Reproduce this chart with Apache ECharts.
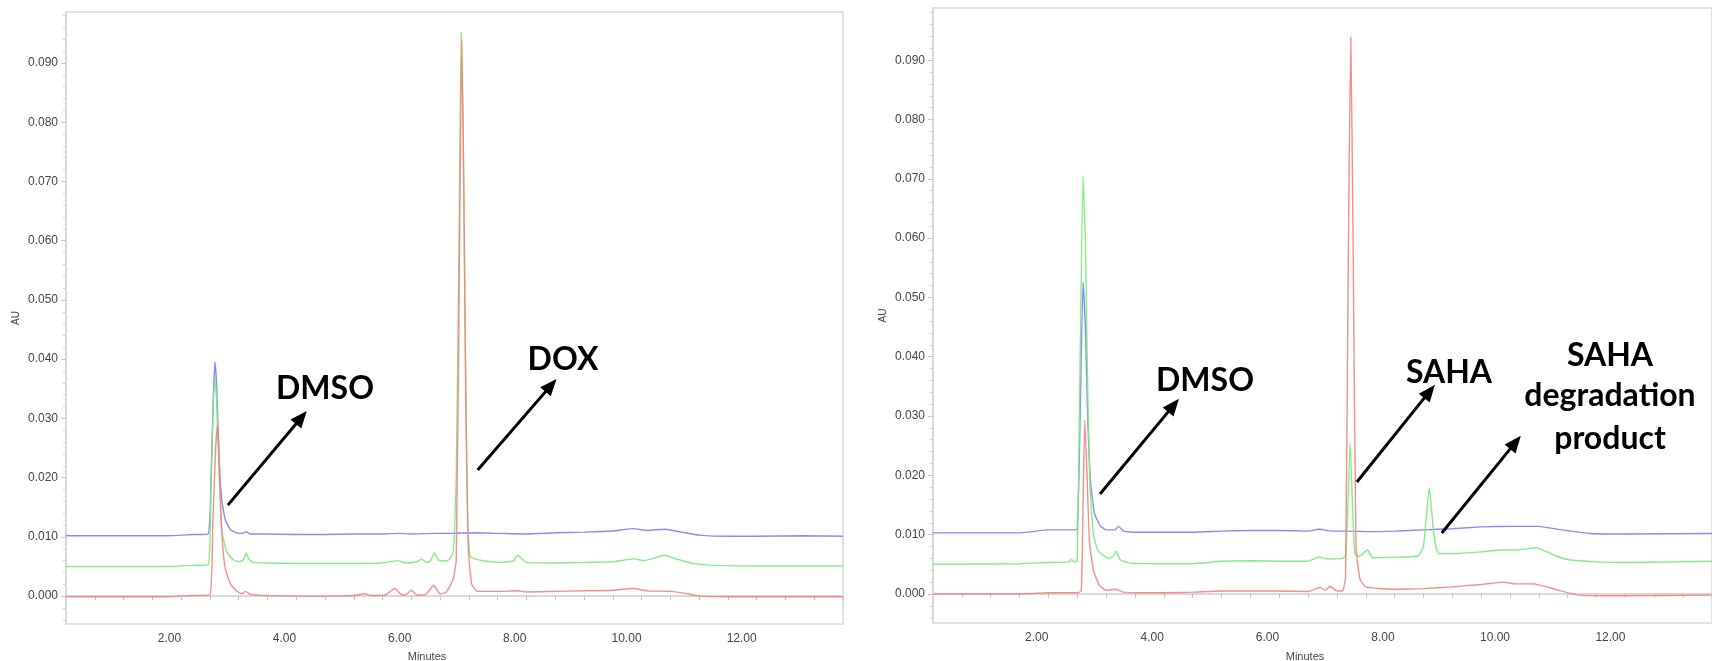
<!DOCTYPE html>
<html>
<head>
<meta charset="utf-8">
<script src="https://cdn.jsdelivr.net/npm/echarts@6/dist/echarts.min.js"></script>
<style>
  html, body { margin: 0; padding: 0; background: #ffffff; }
  #chart { width: 1712px; height: 661px; }
</style>
</head>
<body>
<div id="chart"></div>
<script>
// ---------- DATA (time in minutes, absorbance in AU) ----------
// Left panel: DMSO + DOX
const leftBlue = [[0,0.0102],[1.0,0.0102],[1.75,0.0102],[2.2,0.0104],[2.47,0.0105],[2.52,0.020],[2.56,0.034],[2.59,0.0395],[2.62,0.035],[2.66,0.023],[2.71,0.0160],[2.77,0.0128],[2.86,0.0112],[3.0,0.0106],[3.08,0.0106],[3.13,0.0109],[3.2,0.0105],[3.5,0.0105],[4.0,0.0104],[4.5,0.0104],[5.0,0.0105],[5.5,0.0105],[5.8,0.0106],[6.0,0.0105],[6.4,0.0106],[6.7,0.0106],[7.0,0.0107],[7.5,0.0106],[8.0,0.0105],[8.5,0.0107],[9.0,0.0108],[9.5,0.0110],[9.85,0.0114],[10.1,0.0111],[10.4,0.0113],[10.7,0.0108],[11.0,0.0103],[11.5,0.0101],[12.0,0.0101],[12.8,0.0102],[13.5,0.0101]];
const leftGreen = [[0,0.0050],[1.75,0.0050],[2.2,0.0052],[2.47,0.0053],[2.52,0.018],[2.56,0.033],[2.59,0.0366],[2.62,0.032],[2.66,0.020],[2.71,0.011],[2.79,0.0075],[2.9,0.0062],[3.0,0.0058],[3.08,0.0061],[3.13,0.0073],[3.18,0.0062],[3.25,0.0057],[3.5,0.0056],[4.0,0.0055],[4.5,0.0055],[5.0,0.0055],[5.5,0.0056],[5.77,0.0060],[5.9,0.0056],[6.1,0.0058],[6.18,0.0063],[6.26,0.0057],[6.33,0.0059],[6.4,0.0073],[6.47,0.0061],[6.55,0.0059],[6.65,0.0061],[6.73,0.0075],[6.78,0.020],[6.83,0.062],[6.865,0.0951],[6.9,0.080],[6.94,0.040],[6.98,0.012],[7.02,0.0068],[7.1,0.0063],[7.3,0.0059],[7.6,0.0057],[7.78,0.0060],[7.85,0.0069],[7.93,0.0062],[8.0,0.0057],[8.5,0.0056],[9.0,0.0057],[9.5,0.0058],[9.85,0.0063],[10.05,0.0060],[10.4,0.0069],[10.6,0.0063],[10.9,0.0055],[11.3,0.0052],[12.0,0.0051],[13.5,0.0051]];
const leftRed = [[0,-0.0001],[1.75,-0.0001],[2.2,0.0001],[2.5,0.0002],[2.55,0.012],[2.6,0.025],[2.63,0.0289],[2.66,0.024],[2.7,0.012],[2.76,0.005],[2.85,0.0022],[2.95,0.0010],[3.05,0.0004],[3.12,0.0008],[3.2,0.0003],[3.5,0.0001],[4.0,0.0],[4.5,0.0],[5.0,0.0001],[5.19,0.0004],[5.3,0.0001],[5.55,0.0002],[5.71,0.0013],[5.82,0.0003],[5.9,0.0002],[6.0,0.0010],[6.1,0.0002],[6.25,0.0003],[6.39,0.0018],[6.5,0.0004],[6.6,0.0006],[6.72,0.0027],[6.78,0.006],[6.83,0.050],[6.875,0.0939],[6.91,0.070],[6.95,0.030],[6.99,0.008],[7.05,0.002],[7.15,0.0008],[7.5,0.0008],[7.85,0.0009],[8.0,0.0007],[8.5,0.0008],[9.0,0.0009],[9.5,0.0010],[9.85,0.0013],[10.1,0.0009],[10.5,0.0008],[10.8,0.0004],[11.0,0.0000],[11.5,-0.0001],[12.0,-0.0001],[13.5,-0.0001]];

// Right panel: DMSO + SAHA + SAHA degradation product
const rightBlue = [[0,0.0103],[1.5,0.0103],[2.0,0.0108],[2.4,0.0108],[2.5,0.0110],[2.55,0.030],[2.6,0.0526],[2.64,0.045],[2.68,0.030],[2.73,0.019],[2.8,0.0135],[2.9,0.0115],[3.0,0.0108],[3.15,0.0108],[3.22,0.0114],[3.3,0.0106],[3.6,0.0104],[4.0,0.0104],[4.5,0.0104],[5.0,0.0106],[5.5,0.0107],[6.0,0.0107],[6.5,0.0106],[6.7,0.0109],[6.9,0.0106],[7.2,0.0106],[7.6,0.0105],[8.0,0.0106],[8.5,0.0108],[9.0,0.0110],[9.5,0.0113],[10.0,0.0114],[10.5,0.0114],[10.9,0.0108],[11.4,0.0102],[12.0,0.0101],[13.5,0.0102]];
const rightGreen = [[0,0.0050],[1.5,0.0051],[2.0,0.0053],[2.35,0.0054],[2.4,0.0058],[2.45,0.0054],[2.5,0.0056],[2.55,0.040],[2.6,0.0705],[2.64,0.060],[2.68,0.035],[2.72,0.018],[2.78,0.0100],[2.85,0.0075],[2.95,0.0065],[3.05,0.0060],[3.12,0.0063],[3.18,0.0072],[3.24,0.0058],[3.4,0.0052],[4.0,0.0051],[4.5,0.0051],[5.0,0.0055],[5.5,0.0056],[6.0,0.0055],[6.5,0.0055],[6.68,0.0062],[6.85,0.0059],[7.09,0.0060],[7.15,0.0065],[7.19,0.015],[7.23,0.0254],[7.27,0.015],[7.31,0.0068],[7.38,0.0063],[7.53,0.0074],[7.62,0.0061],[8.0,0.0062],[8.4,0.0064],[8.5,0.0080],[8.6,0.0179],[8.68,0.0100],[8.76,0.0068],[9.0,0.0068],[9.5,0.0071],[9.83,0.0074],[10.1,0.0074],[10.45,0.0078],[10.8,0.0064],[11.0,0.0058],[11.5,0.0054],[12.0,0.0053],[13.5,0.0055]];
const rightRed = [[0,0.0000],[1.5,0.0000],[2.0,0.0002],[2.5,0.0002],[2.57,0.0005],[2.6,0.015],[2.63,0.0293],[2.67,0.020],[2.71,0.009],[2.78,0.004],[2.88,0.0015],[3.0,0.0006],[3.17,0.0008],[3.3,0.0003],[3.6,0.0002],[4.0,0.0002],[4.5,0.0003],[5.0,0.0005],[5.5,0.0005],[6.0,0.0005],[6.5,0.0004],[6.71,0.0011],[6.8,0.0006],[6.88,0.0013],[7.0,0.0005],[7.1,0.0005],[7.15,0.003],[7.2,0.060],[7.24,0.0939],[7.28,0.060],[7.33,0.008],[7.4,0.0025],[7.5,0.0012],[8.0,0.0008],[8.5,0.0009],[9.0,0.0012],[9.5,0.0016],[9.88,0.0020],[10.1,0.0017],[10.4,0.0017],[10.85,0.0006],[11.2,-0.0002],[11.6,-0.0003],[12.0,-0.0003],[13.5,-0.0002]];

// Tick values
const xLabelValues = [2, 4, 6, 8, 10, 12];
const xTickValues = [0.5,1,1.5,2,2.5,3,3.5,4,4.5,5,5.5,6,6.5,7,7.5,8,8.5,9,9.5,10,10.5,11,11.5,12,12.5,13,13.5];
const yLabelValues = [0, 0.01, 0.02, 0.03, 0.04, 0.05, 0.06, 0.07, 0.08, 0.09];
const yMinorValues = [-0.004,-0.002,0.002,0.004,0.006,0.008,0.012,0.014,0.016,0.018,0.022,0.024,0.026,0.028,0.032,0.034,0.036,0.038,0.042,0.044,0.046,0.048,0.052,0.054,0.056,0.058,0.062,0.064,0.066,0.068,0.072,0.074,0.076,0.078,0.082,0.084,0.086,0.088,0.092,0.094,0.096,0.098];

// Annotation arrows (data coordinates: [start, end])
const leftArrows = [[[2.812,0.01537],[4.089,0.03016]], [[7.153,0.02128],[8.427,0.03558]]];
const rightArrows = [[[2.894,0.01685],[4.169,0.03179]], [[7.346,0.01888],[8.606,0.03415]], [[8.818,0.01028],[10.094,0.02555]]];

// ---------- STYLE ----------
const COLORS = { blue: '#8080f4', green: '#7aec7a', red: '#f58282' };
const axisGray = '#d9d9d9';
const labelGray = '#444444';
const labelFont = 'Liberation Sans';

function xAxisFor(grid) {
  return {
    type: 'value', gridIndex: grid, min: 0, max: 13.5,
    axisLine: { show: true, lineStyle: { color: axisGray, width: 2 } },
    axisTick: { show: true, customValues: xTickValues, length: 4, lineStyle: { color: '#c4c4c4' } },
    axisLabel: { customValues: xLabelValues, align: 'right', margin: 9, fontSize: 12,
                 color: labelGray, fontFamily: labelFont, formatter: v => v.toFixed(2) },
    splitLine: { show: false }
  };
}
function yAxesFor(grid, min, max) {
  return [{
    type: 'value', gridIndex: grid, min: min, max: max, position: 'left',
    name: 'AU', nameLocation: 'middle', nameGap: 45, nameRotate: 90,
    nameTextStyle: { fontSize: 10, color: labelGray, fontFamily: labelFont },
    axisLine: { show: true, lineStyle: { color: axisGray, width: 2 } },
    axisTick: { show: true, customValues: yLabelValues, length: 5, lineStyle: { color: '#c4c4c4' } },
    axisLabel: { customValues: yLabelValues, margin: 8, fontSize: 12, color: labelGray,
                 fontFamily: labelFont, formatter: v => v.toFixed(3) },
    splitLine: { show: false }
  }, {
    type: 'value', gridIndex: grid, min: min, max: max, position: 'left',
    axisLine: { show: false },
    axisTick: { show: true, customValues: yMinorValues, length: 3, lineStyle: { color: '#d0d0d0' } },
    axisLabel: { show: false },
    splitLine: { show: false }
  }];
}
function trace(data, color, xi, yi, arrows) {
  const s = {
    type: 'line', data: data, xAxisIndex: xi, yAxisIndex: yi,
    showSymbol: false, symbol: 'none', smooth: 0.15,
    lineStyle: { color: color, width: 1.4, opacity: 0.92 },
    silent: true, animation: false, z: 3
  };
  if (arrows) {
    s.markLine = {
      silent: true, animation: false,
      symbol: ['none', 'triangle'], symbolSize: [14, 17],
      lineStyle: { color: '#000', width: 3, type: 'solid' },
      label: { show: false },
      data: arrows.map(a => [{ coord: a[0] }, { coord: a[1] }])
    };
  }
  return s;
}

const yL = yAxesFor(0, -0.0047, 0.0986);
const yR = yAxesFor(1, -0.0049, 0.0988);

const bold = 'bold 32px Lato';
function lbl(text, x, y) {
  return { type: 'text', x: x, y: y, z: 10, silent: true,
           style: { text: text, font: bold, fill: '#000', align: 'center', verticalAlign: 'middle' } };
}
function axisTitle(text, x, y) {
  return { type: 'text', x: x, y: y, z: 10, silent: true,
           style: { text: text, fontSize: 11, fontFamily: labelFont, fill: labelGray, align: 'center', verticalAlign: 'top' } };
}

const option = {
  backgroundColor: '#ffffff',
  animation: false,
  grid: [
    { left: 66, top: 12, width: 777, height: 612, show: true, borderColor: '#e2e2e2', borderWidth: 2, backgroundColor: 'transparent' },
    { left: 933, top: 8, width: 788, height: 615, show: true, borderColor: '#e2e2e2', borderWidth: 2, backgroundColor: 'transparent' }
  ],
  xAxis: [xAxisFor(0), xAxisFor(1)],
  yAxis: [yL[0], yL[1], yR[0], yR[1]],
  series: [
    trace(leftBlue, COLORS.blue, 0, 0),
    trace(leftGreen, COLORS.green, 0, 0),
    trace(leftRed, COLORS.red, 0, 0, leftArrows),
    trace(rightBlue, COLORS.blue, 1, 2),
    trace(rightGreen, COLORS.green, 1, 2),
    trace(rightRed, COLORS.red, 1, 2, rightArrows)
  ],
  graphic: [
    lbl('DMSO', 325, 389),
    lbl('DOX', 563, 360),
    lbl('DMSO', 1205, 381),
    lbl('SAHA', 1449, 373),
    lbl('SAHA', 1610, 356),
    lbl('degradation', 1610, 396),
    lbl('product', 1610, 439),
    axisTitle('Minutes', 427, 651),
    axisTitle('Minutes', 1305, 651)
  ]
};

const chart = echarts.init(document.getElementById('chart'), null, { renderer: 'canvas' });
chart.setOption(option);
</script>
</body>
</html>
